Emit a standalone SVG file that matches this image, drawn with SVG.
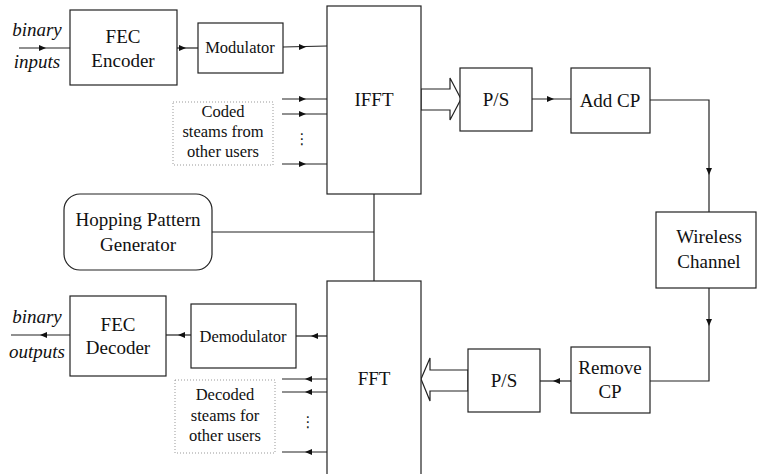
<svg xmlns="http://www.w3.org/2000/svg" xmlns:xlink="http://www.w3.org/1999/xlink" width="757" height="474" viewBox="0 0 757 474">
<style>
.box{fill:#fff;stroke:#222;stroke-width:1.2}
.dot{fill:none;stroke:#999;stroke-width:1;stroke-dasharray:1 2}
.t{font-family:"Liberation Serif","Times New Roman",serif;font-size:19px;fill:#111;text-anchor:middle}
.s{font-size:16.5px}
.i{font-style:italic}
.ln{fill:none;stroke:#222;stroke-width:1.2}
.hol{fill:#fff;stroke:#222;stroke-width:1.2}
.ell{font-family:"DejaVu Sans",sans-serif;font-size:15px;fill:#222;text-anchor:middle}
</style>
<defs>
<polygon id="ah" points="0,0 -7,-3 -7,3" fill="#111"/>
</defs>
<rect width="757" height="474" fill="#fff"/>

<g id="connectors">
<path class="ln" d="M19,48 L70,48"/><use xlink:href="#ah" transform="translate(46,48)"/>
<path class="ln" d="M177,48 L198,48"/><use xlink:href="#ah" transform="translate(186,48)"/>
<path class="ln" d="M283,47 L327,46"/><use xlink:href="#ah" transform="translate(306,47)"/>
<path class="ln" d="M282,99 L327,99"/><use xlink:href="#ah" transform="translate(306,99)"/>
<path class="ln" d="M282,114 L327,114"/><use xlink:href="#ah" transform="translate(306,114)"/>
<path class="ln" d="M282,164 L327,164"/><use xlink:href="#ah" transform="translate(306,164)"/>
<polygon class="hol" points="421,89 450,89 450,78 461,99 450,120 450,110 421,110"/>
<path class="ln" d="M532,99 L571,99"/><use xlink:href="#ah" transform="translate(554,99)"/>
<path class="ln" d="M650,100 L709,100 L709,212"/><use xlink:href="#ah" transform="translate(709,175) rotate(90)"/>
<path class="ln" d="M709,288 L709,381 L650,381"/><use xlink:href="#ah" transform="translate(709,326) rotate(90)"/>
<path class="ln" d="M571,381 L540,381"/><use xlink:href="#ah" transform="translate(553,381) rotate(180)"/>
<polygon class="hol" points="468,370 430,370 430,358 421,379 430,401 430,391 468,391"/>
<path class="ln" d="M327,336 L296,336"/><use xlink:href="#ah" transform="translate(311,336) rotate(180)"/>
<path class="ln" d="M191,335 L166,335"/><use xlink:href="#ah" transform="translate(178,335) rotate(180)"/>
<path class="ln" d="M70,335 L11,335"/><use xlink:href="#ah" transform="translate(40,335) rotate(180)"/>
<path class="ln" d="M327,379 L282,379"/><use xlink:href="#ah" transform="translate(305,379) rotate(180)"/>
<path class="ln" d="M327,392 L282,392"/><use xlink:href="#ah" transform="translate(305,392) rotate(180)"/>
<path class="ln" d="M327,452 L282,452"/><use xlink:href="#ah" transform="translate(305,452) rotate(180)"/>
<path class="ln" d="M212,232 L374,232"/>
<path class="ln" d="M374,194 L374,281"/>
</g>

<g id="binary-inputs">
<text class="t i" x="37" y="36">binary</text>
<text class="t i" x="37" y="68">inputs</text>
</g>
<g id="fec-encoder">
<rect class="box" x="70" y="10" width="107" height="75"/>
<text class="t" x="123" y="43">FEC</text>
<text class="t" x="123" y="67">Encoder</text>
</g>
<g id="modulator">
<rect class="box" x="198" y="23" width="85" height="50"/>
<text class="t s" x="240" y="53">Modulator</text>
</g>
<g id="coded-streams">
<rect class="dot" x="173" y="102" width="100" height="63"/>
<text class="t s" x="223" y="117">Coded</text>
<text class="t s" x="223" y="137">steams from</text>
<text class="t s" x="223" y="157">other users</text>
<text class="ell" x="302" y="144">⋮</text>
</g>
<g id="ifft">
<rect class="box" x="327" y="6" width="94" height="188"/>
<text class="t" x="374" y="106">IFFT</text>
</g>
<g id="ps-tx">
<rect class="box" x="460" y="68" width="72" height="63"/>
<text class="t" x="496" y="106">P/S</text>
</g>
<g id="add-cp">
<rect class="box" x="571" y="68" width="79" height="65"/>
<text class="t" x="610" y="107">Add CP</text>
</g>
<g id="hopping">
<rect class="box" x="64" y="194" width="148" height="76" rx="16"/>
<text class="t" x="138" y="226">Hopping Pattern</text>
<text class="t" x="138" y="251">Generator</text>
</g>
<g id="wireless">
<rect class="box" x="656" y="212" width="100" height="76"/>
<text class="t" x="709" y="243">Wireless</text>
<text class="t" x="709" y="268">Channel</text>
</g>
<g id="fft">
<rect class="box" x="327" y="281" width="94" height="200"/>
<text class="t" x="374" y="385">FFT</text>
</g>
<g id="ps-rx">
<rect class="box" x="468" y="349" width="72" height="63"/>
<text class="t" x="504" y="387">P/S</text>
</g>
<g id="remove-cp">
<rect class="box" x="571" y="347" width="79" height="66"/>
<text class="t" x="610" y="374">Remove</text>
<text class="t" x="610" y="398">CP</text>
</g>
<g id="demodulator">
<rect class="box" x="191" y="304" width="105" height="64"/>
<text class="t s" x="243" y="342">Demodulator</text>
</g>
<g id="fec-decoder">
<rect class="box" x="70" y="296" width="96" height="80"/>
<text class="t" x="118" y="331">FEC</text>
<text class="t" x="118" y="354">Decoder</text>
</g>
<g id="binary-outputs">
<text class="t i" x="37" y="323">binary</text>
<text class="t i" x="37" y="358">outputs</text>
</g>
<g id="decoded-streams">
<rect class="dot" x="175" y="380" width="100" height="73"/>
<text class="t s" x="225" y="400">Decoded</text>
<text class="t s" x="225" y="421">steams for</text>
<text class="t s" x="225" y="441">other users</text>
<text class="ell" x="308" y="427">⋮</text>
</g>
</svg>
